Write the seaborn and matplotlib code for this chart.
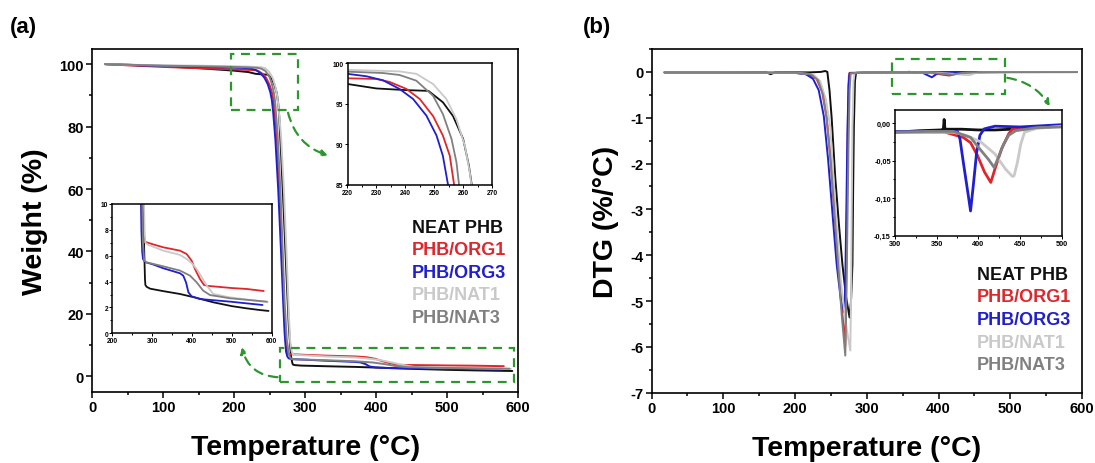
import numpy as np
import matplotlib
matplotlib.use("Agg")
import matplotlib.pyplot as plt
import seaborn as sns
from matplotlib.patches import FancyArrowPatch, Rectangle
from matplotlib.ticker import MultipleLocator, FuncFormatter

sns.set_style("ticks")
plt.rcParams['font.family'] = ['Liberation Sans', 'DejaVu Sans']
plt.rcParams['font.weight'] = 'bold'
plt.rcParams['axes.labelweight'] = 'bold'
plt.rcParams['text.color'] = 'black'
plt.rcParams['axes.labelcolor'] = 'black'
plt.rcParams['xtick.color'] = 'black'
plt.rcParams['ytick.color'] = 'black'

# ---------------- data ----------------
series_names = ["NEAT PHB", "PHB/ORG1", "PHB/ORG3", "PHB/NAT1", "PHB/NAT3"]
series_colors = ["#111111", "#e0262b", "#1f1fd0", "#c9c9c9", "#808080"]

# TGA (weight %) vs temperature
tga_T_neat = [18, 50, 100, 150, 200, 220, 230, 240, 248, 253, 256.5, 260, 262, 263, 266, 270, 274, 277, 280, 282, 283, 286, 295, 330, 370, 410, 453, 500, 537, 570, 592]
tga_W_neat = [100, 99.8, 99.3, 98.7, 97.9, 97.45, 96.9, 96.7, 96.6, 95.2, 93.5, 90.7, 87.4, 85, 72, 52, 31, 16, 6.5, 4.2, 3.74, 3.6, 3.45, 3.25, 3.04, 2.75, 2.4, 2.1, 1.93, 1.8, 1.73]

tga_T_org1 = [18, 50, 100, 150, 200, 220, 230, 234.6, 240.4, 245, 249.6, 253, 255.4, 256.9, 260, 264, 268, 271, 273, 275, 276, 280, 286, 300, 328, 370, 386.6, 399, 407.5, 420, 430, 440, 453.5, 500, 537, 580]
tga_W_org1 = [100, 99.6, 99.1, 98.7, 98.3, 98.15, 98.07, 97.7, 96.84, 95.6, 93.5, 91.1, 88.6, 85, 77, 60, 37, 18, 10, 7.6, 7.16, 7.1, 7.04, 6.9, 6.65, 6.39, 6.13, 5.62, 4.97, 4.2, 3.74, 3.66, 3.63, 3.5, 3.43, 3.27]

tga_T_org3 = [18, 50, 100, 150, 200, 220, 226.6, 232.3, 238, 242.7, 247.3, 250.8, 253, 254.8, 258, 262, 266, 269, 271, 273, 275, 277, 283, 300, 328, 370, 378, 385, 391, 399, 420, 495, 577]
tga_W_org3 = [100, 99.7, 99.4, 99.1, 98.9, 98.7, 98.4, 97.9, 96.84, 95.6, 93.55, 91.1, 88.6, 85, 76, 60, 40, 24, 14, 8, 6.3, 5.75, 5.5, 5.35, 5.03, 4.64, 4.46, 3.94, 3.17, 2.86, 2.65, 2.45, 2.19]

tga_T_nat1 = [18, 50, 100, 150, 200, 220, 238, 243.8, 249.6, 254.2, 257.7, 260.6, 262.3, 262.9, 266, 270, 274, 277, 279, 281, 283, 290, 328, 370, 386.6, 400, 411.7, 425, 437, 453.5, 495, 590]
tga_W_nat1 = [100, 99.8, 99.6, 99.5, 99.3, 99.2, 99.0, 98.7, 97.45, 95.6, 93.1, 89.85, 86.6, 85, 77, 60, 38, 20, 11, 8, 7.0, 6.85, 6.39, 6.06, 5.75, 5.4, 4.97, 4.3, 3.69, 3.04, 2.78, 2.4]

tga_T_nat3 = [18, 50, 100, 150, 200, 220, 232.3, 238, 243.8, 249.6, 253, 256, 257.7, 258.6, 261, 265, 268, 271, 274, 277, 280, 286, 328, 370, 395, 411.7, 428, 445, 495, 588]
tga_W_nat3 = [100, 99.8, 99.5, 99.3, 99.1, 98.97, 98.8, 98.56, 97.86, 96.0, 93.75, 90.67, 87.8, 85, 78, 60, 42, 24, 12, 7, 5.62, 5.49, 5.18, 4.85, 4.46, 3.94, 3.3, 2.96, 2.71, 2.45]

# DTG (%/°C) vs temperature
dtg_T_neat = [18, 100, 160, 166, 172, 220, 236, 242, 245, 248, 251, 256, 261, 266, 271, 276, 278, 280, 281, 282, 283.5, 285, 300, 330, 355, 358, 359, 360, 380, 400, 420, 440, 460, 480, 500, 593]
dtg_D_neat = [-0.01, -0.01, -0.01, -0.05, -0.01, -0.01, 0.0, 0.02, 0.0, -0.4, -1.0, -2.3, -3.3, -4.2, -4.9, -5.36, -5.0, -4.2, -2.5, -1.2, -0.2, -0.02, -0.012, -0.01, -0.009, -0.008, 0.005, -0.008, -0.008, -0.009, -0.009, -0.008, -0.006, -0.005, -0.004, -0.003]

dtg_T_org1 = [18, 100, 200, 220, 230, 238, 244, 250, 255, 260, 266, 270, 271, 272, 273, 274, 275, 276, 300, 360, 382, 390.7, 399, 407.4, 415, 420, 428, 436.6, 441, 470, 500, 593]
dtg_D_org1 = [-0.01, -0.01, -0.02, -0.06, -0.15, -0.45, -1.0, -2.0, -3.1, -4.2, -5.3, -5.98, -5.0, -3.5, -2.0, -0.7, -0.1, -0.02, -0.012, -0.012, -0.019, -0.026, -0.043, -0.065, -0.079, -0.061, -0.034, -0.014, -0.0076, -0.005, -0.003, -0.002]

dtg_T_org3 = [18, 100, 200, 215, 225, 233, 240, 246, 252.4, 258, 264, 268.7, 270, 271.5, 273, 274.5, 276, 300, 375, 378, 382, 388.6, 390.7, 394, 398, 402, 407, 420, 450, 500, 593]
dtg_D_org3 = [-0.01, -0.01, -0.02, -0.05, -0.15, -0.4, -0.96, -1.9, -3.14, -4.2, -5.0, -5.25, -4.6, -3.0, -1.3, -0.3, -0.03, -0.011, -0.011, -0.021, -0.052, -0.101, -0.117, -0.083, -0.039, -0.016, -0.0076, -0.004, -0.005, -0.002, -0.002]

dtg_T_nat1 = [18, 100, 200, 225, 235, 243, 249, 257, 264, 270, 274, 277, 278, 279, 280, 281.5, 283, 300, 370, 385, 403, 420, 432.5, 441, 443, 447, 451, 455.5, 470, 500, 593]
dtg_D_nat1 = [-0.01, -0.01, -0.02, -0.05, -0.2, -0.6, -1.2, -3.14, -4.6, -5.4, -5.8, -6.08, -5.0, -3.0, -1.2, -0.2, -0.02, -0.012, -0.012, -0.016, -0.025, -0.041, -0.061, -0.071, -0.07, -0.052, -0.028, -0.012, -0.007, -0.004, -0.003]

dtg_T_nat3 = [18, 100, 200, 222, 232, 239, 244, 250, 255, 260, 265, 270, 271.5, 273, 274.5, 276, 277.5, 300, 340, 370, 390.7, 403, 412, 419, 424, 430, 436.6, 445, 470, 500, 593]
dtg_D_nat3 = [-0.01, -0.01, -0.02, -0.05, -0.18, -0.5, -1.0, -2.0, -3.1, -4.2, -5.3, -6.19, -5.0, -3.3, -1.6, -0.4, -0.03, -0.012, -0.011, -0.011, -0.019, -0.036, -0.048, -0.059, -0.046, -0.029, -0.016, -0.01, -0.006, -0.005, -0.004]

tga_T = [tga_T_neat, tga_T_org1, tga_T_org3, tga_T_nat1, tga_T_nat3]
tga_W = [tga_W_neat, tga_W_org1, tga_W_org3, tga_W_nat1, tga_W_nat3]
dtg_T = [dtg_T_neat, dtg_T_org1, dtg_T_org3, dtg_T_nat1, dtg_T_nat3]
dtg_D = [dtg_D_neat, dtg_D_org1, dtg_D_org3, dtg_D_nat1, dtg_D_nat3]

# ---------------- layout ----------------
W_PX, H_PX = 1095, 464
fig = plt.figure(figsize=(W_PX / 100, H_PX / 100), dpi=100)


def rect(l, t, r, b):
    return [l / W_PX, 1 - b / H_PX, (r - l) / W_PX, (b - t) / H_PX]


green = "#2e962e"


def style_main(ax):
    for s in ax.spines.values():
        s.set_linewidth(1.2)
        s.set_color("black")
    ax.tick_params(which="both", direction="out", top=False, right=False, width=1.1, colors="black")
    ax.tick_params(which="major", length=4, labelsize=10.5, pad=2)
    ax.tick_params(which="minor", length=2.2)


def style_inset(ax, fs=4.8):
    for s in ax.spines.values():
        s.set_linewidth(1.1)
        s.set_color("black")
    ax.tick_params(which="both", direction="out", top=False, right=False, width=0.7, colors="black")
    ax.tick_params(which="major", length=2, labelsize=fs, pad=1)
    ax.tick_params(which="minor", length=1.2)
    ax.set_xlabel("")
    ax.set_ylabel("")


def draw(ax, Ts, Ys, lw):
    for T, Y, c in zip(Ts, Ys, series_colors):
        sns.lineplot(x=np.array(T), y=np.array(Y), ax=ax, color=c, lw=lw,
                     sort=False, estimator=None, legend=False)


# ---------- panel (a) ----------
axa = fig.add_axes(rect(92.3, 49.5, 518, 393))
draw(axa, tga_T, tga_W, 1.4)
axa.set_xlim(0, 600)
axa.set_ylim(-5, 105)
axa.xaxis.set_major_locator(MultipleLocator(100))
axa.xaxis.set_minor_locator(MultipleLocator(50))
axa.yaxis.set_major_locator(MultipleLocator(20))
axa.yaxis.set_minor_locator(MultipleLocator(10))
style_main(axa)
axa.set_xlabel("Temperature (°C)", fontsize=20.5, fontweight="bold", va="center", color="black")
axa.xaxis.set_label_coords(0.5, -0.16)
axa.set_ylabel("Weight (%)", fontsize=20.5, fontweight="bold", va="center", color="black")
axa.yaxis.set_label_coords(-0.135, 0.5)

# green boxes and arrows (a)
axa.add_patch(Rectangle((196, 85.3), 93.5, 17.9, fill=False, ec=green, lw=1.6, ls=(0, (4, 3)), zorder=5))
axa.add_patch(Rectangle((265, -1.8), 330, 10.9, fill=False, ec=green, lw=1.6, ls=(0, (4, 3)), zorder=5, clip_on=False))
axa.add_patch(FancyArrowPatch((275, 85.3), (336, 70.5), connectionstyle="arc3,rad=0.3",
                              arrowstyle="-|>", mutation_scale=9, color=green, lw=1.6, ls=(0, (4, 3)), zorder=5))
axa.add_patch(FancyArrowPatch((265, -0.3), (210, 10.2), connectionstyle="arc3,rad=-0.4",
                              arrowstyle="-|>", mutation_scale=9, color=green, lw=1.6, ls=(0, (4, 3)), zorder=5))

# inset (a) top right
ia1 = fig.add_axes(rect(347.5, 64.3, 492, 186))
draw(ia1, tga_T, tga_W, 1.3)
ia1.set_xlim(220, 270)
ia1.set_ylim(85, 100)
ia1.xaxis.set_major_locator(MultipleLocator(10))
ia1.xaxis.set_minor_locator(MultipleLocator(5))
ia1.yaxis.set_major_locator(MultipleLocator(5))
style_inset(ia1)

# inset (a) bottom left
ia2 = fig.add_axes(rect(112.3, 205, 271.7, 334.3))
draw(ia2, tga_T, tga_W, 1.3)
ia2.set_xlim(200, 600)
ia2.set_ylim(0, 10)
ia2.xaxis.set_major_locator(MultipleLocator(100))
ia2.xaxis.set_minor_locator(MultipleLocator(50))
ia2.yaxis.set_major_locator(MultipleLocator(2))
ia2.yaxis.set_minor_locator(MultipleLocator(1))
style_inset(ia2)

# ---------- panel (b) ----------
axb = fig.add_axes(rect(651.6, 50, 1082, 393.7))
draw(axb, dtg_T, dtg_D, 1.4)
axb.set_xlim(0, 600)
axb.set_ylim(-7, 0.5)
axb.xaxis.set_major_locator(MultipleLocator(100))
axb.xaxis.set_minor_locator(MultipleLocator(50))
axb.yaxis.set_major_locator(MultipleLocator(1))
axb.yaxis.set_minor_locator(MultipleLocator(0.5))
axb.yaxis.set_major_formatter(FuncFormatter(lambda v, p: f"{int(round(v))}"))
style_main(axb)
axb.set_xlabel("Temperature (°C)", fontsize=20.5, fontweight="bold", va="center", color="black")
axb.xaxis.set_label_coords(0.5, -0.16)
axb.set_ylabel("DTG (%/°C)", fontsize=20.5, fontweight="bold", va="center", color="black")
axb.yaxis.set_label_coords(-0.105, 0.5)

axb.add_patch(Rectangle((335.7, -0.472), 156.3, 0.748, fill=False, ec=green, lw=1.6, ls=(0, (4, 3)), zorder=5))
axb.add_patch(FancyArrowPatch((492, -0.12), (557, -0.8), connectionstyle="arc3,rad=-0.25",
                              arrowstyle="-|>", mutation_scale=9, color=green, lw=1.6, ls=(0, (4, 3)), zorder=5))

ib = fig.add_axes(rect(895, 110.7, 1061.6, 236.7))
draw(ib, dtg_T, dtg_D, 2.0)
ib.set_xlim(300, 500)
ib.set_ylim(-0.15, 0.018)
ib.xaxis.set_major_locator(MultipleLocator(50))
ib.xaxis.set_minor_locator(MultipleLocator(25))
ib.yaxis.set_major_locator(MultipleLocator(0.05))
ib.yaxis.set_minor_locator(MultipleLocator(0.025))
ib.yaxis.set_major_formatter(FuncFormatter(lambda v, p: f"{v:.2f}".replace(".", ",").replace("-0,00", "0,00")))
style_inset(ib, fs=5.3)

# ---------- legends (coloured text) ----------
leg_a_y = [228.3, 250.7, 273.3, 296, 318.3]
leg_b_y = [276, 297.7, 321, 343.3, 366]
for name, c, ya, yb in zip(series_names, series_colors, leg_a_y, leg_b_y):
    fig.text(411.7 / W_PX, 1 - ya / H_PX, name, color=c, fontsize=13, fontweight="bold", va="center", ha="left")
    fig.text(976.8 / W_PX, 1 - yb / H_PX, name, color=c, fontsize=13, fontweight="bold", va="center", ha="left")

# panel letters
fig.text(10 / W_PX, 1 - 27 / H_PX, "(a)", fontsize=16, fontweight="bold", va="center", ha="left", color="black")
fig.text(583 / W_PX, 1 - 27 / H_PX, "(b)", fontsize=16, fontweight="bold", va="center", ha="left", color="black")

fig.savefig("out.png", dpi=100, facecolor="white")
